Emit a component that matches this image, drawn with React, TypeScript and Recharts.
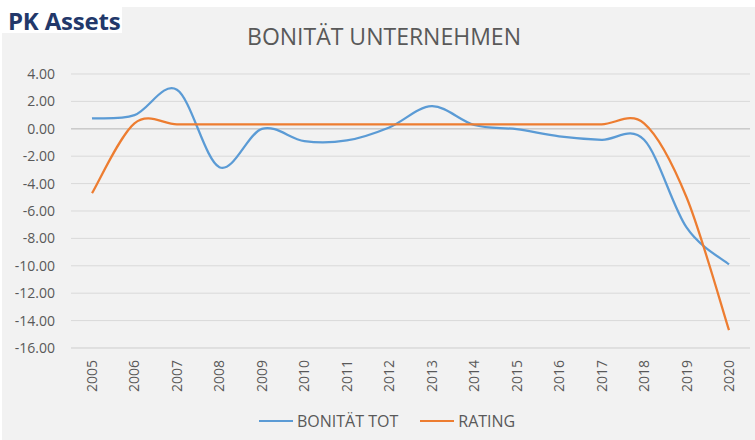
import React from 'react';
import { LineChart, Line, XAxis, YAxis, CartesianGrid, ReferenceLine, Legend } from 'recharts';

const years = ['2005', '2006', '2007', '2008', '2009', '2010', '2011', '2012', '2013', '2014', '2015', '2016', '2017', '2018', '2019', '2020'];
const bonitaetTot = [0.76, 1.0, 2.85, -2.8, 0.0, -0.9, -0.85, 0.1, 1.65, 0.28, -0.03, -0.55, -0.8, -0.8, -7.2, -9.9];
const rating = [-4.7, 0.4, 0.33, 0.33, 0.33, 0.33, 0.33, 0.33, 0.33, 0.33, 0.33, 0.33, 0.33, 0.4, -5.0, -14.7];
const yTicks = [4, 2, 0, -2, -4, -6, -8, -10, -12, -14, -16];

const chartTitle = 'BONITÄT UNTERNEHMEN';
const brand = 'PK Assets';

const data = years.map((y, i) => ({ year: y, bonitaet: bonitaetTot[i], rating: rating[i] }));

const FONT = '"Open Sans", sans-serif';
const TEXT = '#595959';

// Excel-like smoothed line (Catmull-Rom through the points)
const smoothCurve: any = (context: any) => {
  let pts: number[][] = [];
  return {
    areaStart() {},
    areaEnd() {},
    lineStart() {
      pts = [];
    },
    point(x: number, y: number) {
      pts.push([+x, +y]);
    },
    lineEnd() {
      const n = pts.length;
      if (!n) return;
      context.moveTo(pts[0][0], pts[0][1]);
      if (n === 1) return;
      const k = 1 / 6;
      for (let i = 0; i < n - 1; i++) {
        const p0 = pts[Math.max(0, i - 1)];
        const p1 = pts[i];
        const p2 = pts[i + 1];
        const p3 = pts[Math.min(n - 1, i + 2)];
        context.bezierCurveTo(
          p1[0] + k * (p2[0] - p0[0]),
          p1[1] + k * (p2[1] - p0[1]),
          p2[0] - k * (p3[0] - p1[0]),
          p2[1] - k * (p3[1] - p1[1]),
          p2[0],
          p2[1]
        );
      }
    },
  };
};

const YearTick = (props: any) => {
  const { x, y, payload } = props;
  return (
    <text
      x={x}
      y={y}
      transform={`rotate(-90, ${x}, ${y})`}
      textAnchor="end"
      dy="0.36em"
      fontSize={14}
      fill={TEXT}
      fontFamily={FONT}
    >
      {payload.value}
    </text>
  );
};

const LegendContent = (props: any) => {
  const { payload } = props;
  return (
    <div style={{ display: 'flex', alignItems: 'center', paddingLeft: 259, fontFamily: FONT }}>
      {(payload || []).map((p: any, i: number) => (
        <div key={i} style={{ display: 'flex', alignItems: 'center', marginRight: 22 }}>
          <div style={{ width: 34, height: 2.5, background: p.color, marginRight: 4 }} />
          <span style={{ fontSize: 16, color: TEXT, lineHeight: '20px' }}>{p.value}</span>
        </div>
      ))}
    </div>
  );
};

export default function App() {
  return (
    <div style={{ position: 'absolute', left: 0, top: 0, width: 755, height: 440, background: '#ffffff', overflow: 'hidden' }}>
      <div style={{ position: 'absolute', left: 2, top: 7, width: 753, height: 433, background: '#f2f2f2' }} />
      <div style={{ position: 'absolute', left: 0, top: 0, width: 122, height: 33, background: '#ffffff' }} />
      <div style={{ position: 'absolute', left: 0, top: 0 }}>
        <LineChart width={755} height={440} data={data} margin={{ top: 74, right: 5, bottom: 42, left: 0 }}>
          <CartesianGrid vertical={false} stroke="#d9d9d9" strokeWidth={1} />
          <XAxis
            dataKey="year"
            interval={0}
            tickLine={false}
            axisLine={{ stroke: '#d9d9d9' }}
            tickSize={0}
            tickMargin={12}
            height={50}
            padding={{ left: 21, right: 21 }}
            tick={<YearTick />}
          />
          <YAxis
            domain={[-16, 4]}
            ticks={yTicks}
            interval={0}
            axisLine={false}
            tickLine={false}
            tickSize={0}
            tickMargin={16}
            width={71}
            tickFormatter={(v: number) => v.toFixed(2)}
            tick={{ fontSize: 14, fill: TEXT, fontFamily: FONT }}
          />
          <ReferenceLine y={0} stroke="#cbcbcb" strokeWidth={1.6} />
          <Line
            name="BONITÄT TOT"
            dataKey="bonitaet"
            stroke="#5b9bd5"
            strokeWidth={2.25}
            dot={false}
            type={smoothCurve}
            isAnimationActive={false}
          />
          <Line
            name="RATING"
            dataKey="rating"
            stroke="#ed7d31"
            strokeWidth={2.25}
            dot={false}
            type={smoothCurve}
            isAnimationActive={false}
          />
          <Legend
            layout="horizontal"
            verticalAlign="middle"
            align="center"
            content={<LegendContent />}
            wrapperStyle={{ position: 'absolute', left: 0, top: 411, width: 755, height: 20 }}
          />
        </LineChart>
      </div>
      <svg style={{ position: 'absolute', left: 0, top: 0 }} width={755} height={60}>
        <text x={8} y={30} fontSize={24} fontWeight={700} fill="#22386a" fontFamily={FONT} letterSpacing={-0.2}>
          {brand}
        </text>
        <text x={384} y={45} textAnchor="middle" fontSize={23} fill={TEXT} fontFamily={FONT}>
          {chartTitle}
        </text>
      </svg>
    </div>
  );
}
